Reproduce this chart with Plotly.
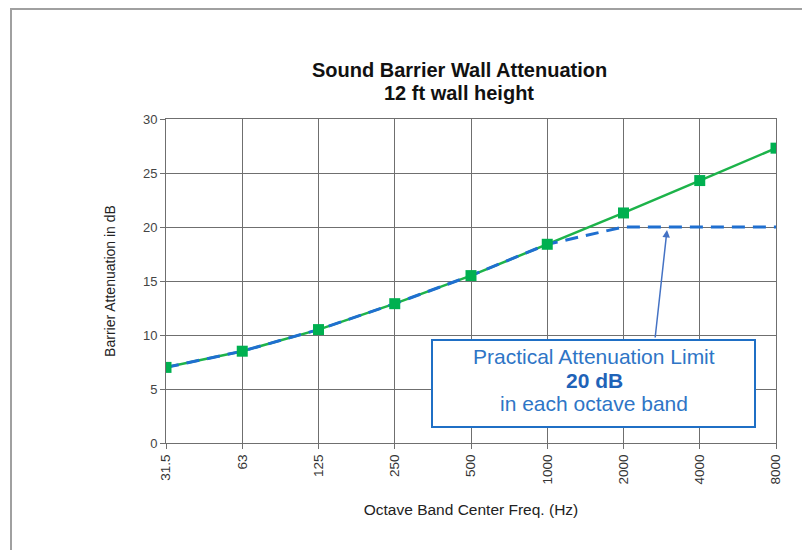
import plotly.graph_objects as go

freqs = ["31.5", "63", "125", "250", "500", "1000", "2000", "4000", "8000"]
attenuation = [7.0, 8.5, 10.5, 12.9, 15.5, 18.4, 21.3, 24.3, 27.3]
practical = [7.0, 8.5, 10.5, 12.9, 15.5, 18.4, 20.0, 20.0, 20.0]
y_ticks = [0, 5, 10, 15, 20, 25, 30]

OFF = 8  # browser body margin
W, H = 810 - OFF, 550 - OFF
# plot area in reference-page pixels
PX0, PX1, PY0, PY1 = 166, 776, 119, 443
L, R, T, B = PX0 - OFF, W - (PX1 - OFF), PY0 - OFF, H - (PY1 - OFF)
pw = PX1 - PX0
ph = PY1 - PY0

def px(xp):
    return (xp - PX0) / pw

def py(yp):
    return (PY1 - yp) / ph

fig = go.Figure()
fig.add_trace(go.Scatter(x=freqs, y=attenuation, mode="lines",
                         line=dict(color="#1DB34A", width=2.5), hoverinfo="skip"))
fig.add_trace(go.Scatter(x=freqs, y=practical, mode="lines",
                         line=dict(color="#1F6FD0", width=3, dash="13px,8px"), hoverinfo="skip"))
fig.add_trace(go.Scatter(x=freqs, y=attenuation, mode="markers",
                         marker=dict(symbol="square", size=11, color="#00B050"), hoverinfo="skip"))

grid = "#6f6f6f"
fig.update_xaxes(type="category", range=[0, len(freqs) - 1], showgrid=True, gridcolor=grid,
                 gridwidth=1, tickangle=-90, ticks="outside", ticklen=5, tickcolor=grid,
                 tickfont=dict(family="Arial", size=13.5, color="#333333"),
                 showline=True, linecolor=grid, mirror=True, zeroline=False,
                 title=dict(text="Octave Band Center Freq. (Hz)", standoff=20,
                            font=dict(family="Arial", size=15.5, color="#222222")))
fig.update_yaxes(range=[0, 30], tickvals=y_ticks, showgrid=True, gridcolor=grid, gridwidth=1,
                 ticks="outside", ticklen=5, tickcolor=grid,
                 tickfont=dict(family="Arial", size=13, color="#444444"),
                 showline=True, linecolor=grid, mirror=True, zeroline=False,
                 title=dict(text="Barrier Attenuation in dB", standoff=24,
                            font=dict(family="Arial", size=14, color="#222222")))

shapes = [
    dict(type="rect", xref="paper", yref="paper", x0=px(11), x1=px(830), y0=py(9), y1=py(570),
         line=dict(color="#a0a0a0", width=2), fillcolor="rgba(0,0,0,0)", layer="below"),
    dict(type="rect", xref="paper", yref="paper", x0=px(432), x1=px(755), y0=py(340), y1=py(427),
         line=dict(color="#1F6FC5", width=2), fillcolor="white", layer="above"),
]

tc = "#2E75C6"
def label(text, x, y, size, color):
    return dict(text=text, xref="paper", yref="paper", x=px(x), y=py(y),
                xanchor="center", yanchor="middle", showarrow=False,
                font=dict(family="Arial", size=size, color=color))

annotations = [
    label("<b>Sound Barrier Wall Attenuation</b>", 459, 70, 20, "#111111"),
    label("<b>12 ft wall height</b>", 459, 93, 20, "#111111"),
    label("Practical Attenuation Limit", 594, 356, 21, tc),
    label("<b>20 dB</b>", 594, 380, 21, "#1F63B8"),
    label("in each octave band", 594, 403, 21, tc),
    dict(text="", xref="x", yref="y", x=(667 - PX0) / (pw / 8), y=(PY1 - 230) / (ph / 30),
         axref="x", ayref="y", ax=(655 - PX0) / (pw / 8), ay=(PY1 - 339) / (ph / 30),
         showarrow=True, arrowhead=2, arrowsize=1, arrowwidth=1.5, arrowcolor="#4472C4"),
]

fig.update_layout(width=W, height=H, margin=dict(l=L, r=R, t=T, b=B),
                  paper_bgcolor="white", plot_bgcolor="white", showlegend=False,
                  shapes=shapes, annotations=annotations)

fig.write_html("out.html")
